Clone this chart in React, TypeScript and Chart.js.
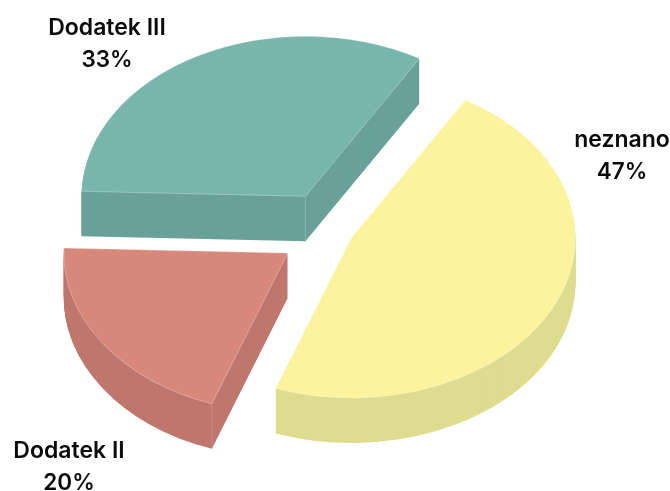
import React, { useEffect, useRef } from "react";
import { Chart, registerables } from "chart.js";

Chart.register(...registerables);

const categories = ["neznano", "Dodatek II", "Dodatek III"];
const shares = [47, 20, 33];
const topColors = ["#FBF39E", "#D7887A", "#78B5AB"];
const wallColors = ["#DEDC8F", "#BF776D", "#69A198"];
const seamColors = ["#E6E4A0", "#D08A80", "#8CB8B0"];
const explode = [21, 54, 56];
const drawOrder = [2, 1, 0];
const labelAnchors = [
  [622, 147],
  [69, 458],
  [107, 35],
];

const WIDTH = 670;
const HEIGHT = 491;
const RADIUS = 224;
const TILT = 0.715;
const DEPTH = 45;
const CENTER_X = 332.4;
const CENTER_Y = 231.4;
const NAME_FONT = '600 23px Inter, "Liberation Sans", sans-serif';
const SHARE_FONT = '600 22.5px Inter, "Liberation Sans", sans-serif';

const applyTilt = (ctx: CanvasRenderingContext2D) => {
  ctx.translate(CENTER_X - WIDTH / 2, CENTER_Y);
  ctx.scale(1, TILT);
  ctx.translate(0, -HEIGHT / 2);
};

const drawSeam = (ctx: CanvasRenderingContext2D, x: number, y: number, color: string) => {
  ctx.beginPath();
  ctx.moveTo(x, y);
  ctx.lineTo(x, y + DEPTH / TILT);
  ctx.strokeStyle = color;
  ctx.lineWidth = 1;
  ctx.stroke();
};

const piePlugin = {
  id: "tiltedPie",
  afterDatasetsUpdate(chart: any) {
    chart.getDatasetMeta(0).data.forEach((el: any, i: number) => {
      const mid = (el.startAngle + el.endAngle) / 2;
      el.x += Math.cos(mid) * explode[i];
      el.y += Math.sin(mid) * explode[i];
    });
  },
  beforeDatasetsDraw(chart: any) {
    const ctx: CanvasRenderingContext2D = chart.ctx;
    const arcs = chart.getDatasetMeta(0).data;
    for (const i of drawOrder) {
      const el = arcs[i];
      const saved = el.options;
      const wall = Object.create(saved);
      wall.backgroundColor = wallColors[i];
      wall.borderColor = wallColors[i];
      wall.borderWidth = 0;
      el.options = wall;
      for (let d = DEPTH; d >= 1; d--) {
        ctx.save();
        ctx.translate(0, d);
        applyTilt(ctx);
        el.draw(ctx);
        ctx.restore();
      }
      el.options = saved;
    }
    ctx.save();
    applyTilt(ctx);
    // Lighter vertical corners where two wall faces meet.
    drawSeam(ctx, arcs[2].x, arcs[2].y, seamColors[2]);
    drawSeam(
      ctx,
      arcs[1].x + Math.cos(arcs[1].startAngle) * arcs[1].outerRadius,
      arcs[1].y + Math.sin(arcs[1].startAngle) * arcs[1].outerRadius,
      seamColors[1],
    );
  },
  afterDatasetsDraw(chart: any) {
    const ctx: CanvasRenderingContext2D = chart.ctx;
    ctx.restore();
    ctx.save();
    ctx.fillStyle = "#0b0b0b";
    ctx.textAlign = "center";
    ctx.textBaseline = "alphabetic";
    categories.forEach((name, i) => {
      const [x, y] = labelAnchors[i];
      ctx.font = NAME_FONT;
      ctx.fillText(name, x, y);
      ctx.font = SHARE_FONT;
      ctx.fillText(`${shares[i]}%`, x, y + 32);
    });
    ctx.restore();
  },
};

export default function App() {
  const ref = useRef<HTMLCanvasElement>(null);
  useEffect(() => {
    document.body.style.margin = "0";
    const chart = new Chart(ref.current!, {
      type: "pie",
      data: {
        labels: categories,
        datasets: [
          {
            data: shares,
            backgroundColor: topColors,
            borderWidth: 1,
            borderColor: "rgba(255,255,255,0.35)",
            clip: false,
          } as any,
        ],
      },
      options: {
        animation: false,
        responsive: false,
        radius: RADIUS,
        rotation: 30.6,
        layout: { padding: 0 },
        plugins: { legend: { display: false }, tooltip: { enabled: false } },
      } as any,
      plugins: [piePlugin],
    });
    return () => chart.destroy();
  }, []);
  return (
    <canvas
      ref={ref}
      width={WIDTH}
      height={HEIGHT}
      style={{ display: "block", width: WIDTH, height: HEIGHT }}
    />
  );
}
